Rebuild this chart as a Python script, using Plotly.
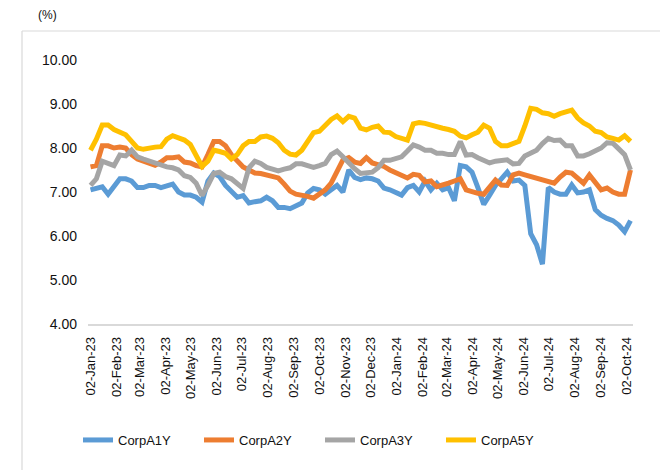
import pandas as pd
import plotly.graph_objects as go

# Weekly observation dates (Mondays) from 02-Jan-2023
dates = pd.date_range("2023-01-02", periods=93, freq="7D")

corp_a1y = [7.05, 7.08, 7.12, 6.95, 7.15, 7.3, 7.3, 7.25, 7.1, 7.1,
            7.15, 7.15, 7.1, 7.15, 7.18, 7.0, 6.93, 6.93, 6.88, 6.77,
            7.25, 7.43, 7.35, 7.15, 7.02, 6.88, 6.92, 6.75, 6.78, 6.8,
            6.88, 6.8, 6.65, 6.65, 6.62, 6.68, 6.75, 6.98, 7.08, 7.05,
            6.95, 7.05, 7.15, 7.0, 7.5, 7.33, 7.28, 7.32, 7.3, 7.25,
            7.09, 7.05, 7.0, 6.93, 7.1, 7.15, 7.0, 7.25, 7.05, 7.2,
            7.05, 7.1, 6.8, 7.6, 7.57, 7.45, 7.1, 6.72, 6.93, 7.15,
            7.3, 7.45, 7.25, 7.27, 7.15, 6.05, 5.8, 5.36, 7.1, 7.0,
            6.95, 6.95, 7.16, 6.98, 7.0, 7.05, 6.6, 6.47, 6.4, 6.35,
            6.25, 6.1, 6.35]

corp_a2y = [7.57, 7.6, 8.05, 8.05, 8.0, 8.02, 8.0, 7.85, 7.75, 7.7,
            7.67, 7.61, 7.68, 7.78, 7.78, 7.8, 7.68, 7.66, 7.6, 7.57,
            7.85, 8.15, 8.15, 8.05, 7.85, 7.7, 7.57, 7.5, 7.43, 7.42,
            7.39, 7.36, 7.32, 7.18, 7.02, 6.95, 6.93, 6.9, 6.86, 6.95,
            7.05, 7.2, 7.45, 7.73, 7.78, 7.68, 7.65, 7.78, 7.66, 7.62,
            7.58, 7.5, 7.45, 7.39, 7.32, 7.4, 7.38, 7.23, 7.25, 7.12,
            7.15, 7.2, 7.25, 7.3, 7.05, 7.0, 6.97, 6.95, 7.12, 7.27,
            7.16, 7.15, 7.39, 7.43, 7.39, 7.35, 7.32, 7.29, 7.24, 7.2,
            7.34, 7.45, 7.43, 7.3, 7.2, 7.39, 7.22, 7.05, 7.09, 7.0,
            6.95, 6.95, 7.5]

corp_a3y = [7.15, 7.3, 7.7, 7.65, 7.6, 7.84, 7.82, 7.95, 7.8, 7.75,
            7.7, 7.65, 7.6, 7.57, 7.55, 7.5, 7.37, 7.33, 7.2, 6.92,
            7.15, 7.42, 7.45, 7.35, 7.3, 7.18, 7.08, 7.55, 7.7, 7.65,
            7.56, 7.52, 7.48, 7.52, 7.55, 7.64, 7.64, 7.6, 7.56, 7.6,
            7.65, 7.85, 7.93, 7.8, 7.65, 7.53, 7.42, 7.44, 7.45, 7.55,
            7.72, 7.72, 7.77, 7.8, 7.93, 8.07, 8.02, 7.95, 7.95, 7.88,
            7.88, 7.85, 7.85, 8.15, 7.84, 7.85, 7.78, 7.72, 7.66, 7.7,
            7.72, 7.73, 7.64, 7.65, 7.82, 7.88, 7.95, 8.1, 8.22, 8.17,
            8.18, 8.05, 8.05, 7.82, 7.82, 7.87, 7.92, 8.0, 8.12, 8.11,
            7.98, 7.85, 7.5]

corp_a5y = [7.95, 8.2, 8.52, 8.52, 8.42, 8.35, 8.3, 8.15, 8.0, 7.97,
            8.0, 8.02, 8.03, 8.2, 8.28, 8.22, 8.18, 8.08, 7.85, 7.58,
            7.7, 7.95, 7.92, 7.88, 7.75, 7.85, 8.05, 8.15, 8.15, 8.25,
            8.27, 8.22, 8.12, 7.95, 7.86, 7.84, 7.95, 8.15, 8.35, 8.38,
            8.5, 8.65, 8.73, 8.6, 8.72, 8.68, 8.45, 8.41, 8.47, 8.5,
            8.36, 8.35, 8.26, 8.23, 8.18, 8.55, 8.58, 8.56, 8.52, 8.47,
            8.45, 8.42, 8.38, 8.27, 8.23, 8.3, 8.36, 8.52, 8.45, 8.15,
            8.05, 8.05, 8.11, 8.15, 8.5, 8.9, 8.88, 8.8, 8.78, 8.72,
            8.78, 8.82, 8.86, 8.68, 8.57, 8.5, 8.38, 8.35, 8.25, 8.22,
            8.18, 8.28, 8.15]

tick_labels = ["02-Jan-23", "02-Feb-23", "02-Mar-23", "02-Apr-23", "02-May-23",
               "02-Jun-23", "02-Jul-23", "02-Aug-23", "02-Sep-23", "02-Oct-23",
               "02-Nov-23", "02-Dec-23", "02-Jan-24", "02-Feb-24", "02-Mar-24",
               "02-Apr-24", "02-May-24", "02-Jun-24", "02-Jul-24", "02-Aug-24",
               "02-Sep-24", "02-Oct-24"]
tick_vals = pd.to_datetime(tick_labels, format="%d-%b-%y")

series = [("CorpA1Y", corp_a1y, "#5B9BD5"),
          ("CorpA2Y", corp_a2y, "#ED7D31"),
          ("CorpA3Y", corp_a3y, "#A5A5A5"),
          ("CorpA5Y", corp_a5y, "#FFC000")]

FONT = "Liberation Sans"
TXT = "#111111"

fig = go.Figure()
for name, vals, color in series:
    fig.add_trace(go.Scatter(x=dates, y=vals, name=name, mode="lines",
                             line=dict(color=color, width=5)))

L, R, T, B = 88, 27, 60, 146
W, H = 660, 470
pw, ph = W - L - R, H - T - B

def px(x):
    return (x - L) / pw

def py(y):
    return (H - B - y) / ph

fig.update_layout(
    width=W, height=H,
    margin=dict(l=L, r=R, t=T, b=B),
    paper_bgcolor="white", plot_bgcolor="white",
    font=dict(family=FONT, color=TXT),
    showlegend=True,
    legend=dict(orientation="h", x=px(78), xanchor="left", y=py(440), yanchor="middle",
                font=dict(size=13, family=FONT, color=TXT),
                entrywidth=76, entrywidthmode="pixels",
                bgcolor="rgba(0,0,0,0)"),
    xaxis=dict(type="date", range=["2022-12-30", "2024-10-10"],
               tickmode="array", tickvals=tick_vals, ticktext=tick_labels,
               tickangle=-90, tickfont=dict(size=13, family=FONT, color=TXT),
               showgrid=False, zeroline=False, showline=True,
               linecolor="#D9D9D9", linewidth=1.5, ticks="",
               ticklabelstandoff=6),
    yaxis=dict(range=[4, 10], dtick=1, tickformat=".2f",
               tickfont=dict(size=14, family=FONT, color=TXT),
               showgrid=False, zeroline=False, showline=False, ticks="",
               ticklabelstandoff=10),
    annotations=[dict(text="(%)", xref="paper", yref="paper", x=px(47), y=py(15),
                      showarrow=False, font=dict(size=12, family=FONT, color=TXT),
                      xanchor="center", yanchor="middle")],
    shapes=[
        dict(type="line", xref="paper", yref="paper", x0=px(22), x1=px(22),
             y0=py(31), y1=py(480), line=dict(color="#D9D9D9", width=1.2)),
        dict(type="line", xref="paper", yref="paper", x0=px(22), x1=px(670),
             y0=py(31), y1=py(31), line=dict(color="#D9D9D9", width=1.2)),
    ],
)

fig.write_html("out.html", config={"displayModeBar": False},
               post_script="document.body.style.margin='0';document.body.style.padding='0';")
